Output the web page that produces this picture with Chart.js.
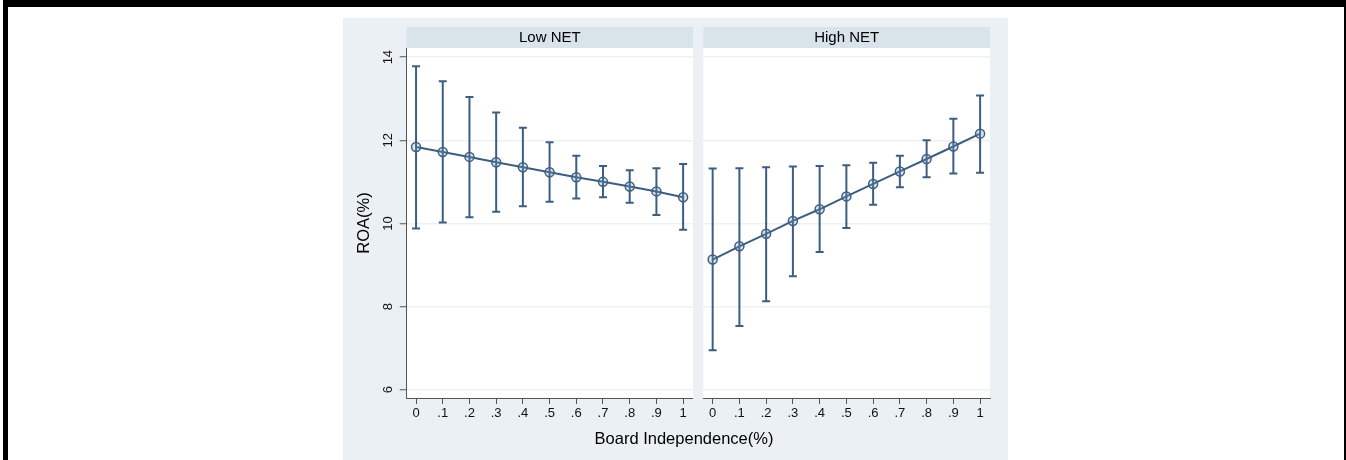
<!DOCTYPE html>
<html>
<head>
<meta charset="utf-8">
<script src="https://cdn.jsdelivr.net/npm/chart.js@4/dist/chart.umd.min.js"></script>
<style>
    html, body { margin: 0; padding: 0; background: #ffffff; }
    body { width: 1346px; height: 460px; position: relative; overflow: hidden; font-family: 'Liberation Sans', Arial, sans-serif; }
    #marco { position: absolute; left: 3px; top: 0; width: 1343px; height: 470px; box-sizing: border-box;
             border-top: 7px solid #000; border-left: 5px solid #000; border-right: 2px solid #000; }
    #fondo { position: absolute; left: 343px; top: 18px; width: 665px; height: 442px; background: #eaf0f3; }
    #izq { position: absolute; left: 0; top: 0; }
    #der { position: absolute; left: 350px; top: 0; }
    #tituloX { position: absolute; left: 241px; width: 200px; top: 410px; text-align: center;
               font-size: 16.5px; line-height: 20px; color: #000; }
</style>
</head>
<body>
<div id="marco"></div>
<div id="fondo">
    <canvas id="izq" width="350" height="442"></canvas>
    <canvas id="der" width="315" height="442"></canvas>
    <div id="tituloX">Board Independence(%)</div>
</div>
<script>
// datos
const xVals = [0, 0.1, 0.2, 0.3, 0.4, 0.5, 0.6, 0.7, 0.8, 0.9, 1];
const xTickLabels = ['0', '.1', '.2', '.3', '.4', '.5', '.6', '.7', '.8', '.9', '1'];
const yTicks = [6, 8, 10, 12, 14];
const panelTitles = ['Low NET', 'High NET'];

// Low NET
const lowMean  = [11.84, 11.72, 11.60, 11.47, 11.35, 11.23, 11.11, 11.00, 10.89, 10.77, 10.63];
const lowUpper = [13.78, 13.42, 13.04, 12.67, 12.30, 11.95, 11.63, 11.38, 11.28, 11.33, 11.43];
const lowLower = [9.88, 10.02, 10.15, 10.28, 10.41, 10.52, 10.60, 10.63, 10.50, 10.20, 9.85];

// High NET
const highMean  = [9.13, 9.45, 9.75, 10.06, 10.34, 10.65, 10.95, 11.25, 11.55, 11.85, 12.16];
const highUpper = [11.32, 11.33, 11.35, 11.37, 11.38, 11.40, 11.46, 11.63, 12.00, 12.52, 13.08];
const highLower = [6.95, 7.53, 8.13, 8.73, 9.31, 9.89, 10.45, 10.87, 11.11, 11.20, 11.22];

const azul = '#3d5e81';
const fuente = "'Liberation Sans', Arial, sans-serif";

// fondo blanco del area y franja del titulo
const franja = {
    id: 'franja',
    beforeDraw(chart) {
        const a = chart.chartArea;
        const ctx = chart.ctx;
        ctx.save();
        ctx.fillStyle = '#ffffff';
        ctx.fillRect(a.left, a.top, a.right - a.left, a.bottom - a.top);
        ctx.fillStyle = '#d9e3ea';
        ctx.fillRect(a.left, 9, a.right - a.left, a.top - 9);
        ctx.restore();
    }
};

function crearPanel(canvasId, titulo, media, sup, inf, esIzq) {
    // barras de error como segmentos separados por huecos
    const barras = [];
    xVals.forEach((x, i) => {
        barras.push({ x: x, y: inf[i] }, { x: x, y: sup[i] }, { x: x, y: null });
    });

    return new Chart(document.getElementById(canvasId), {
        type: 'scatter',
        data: {
            datasets: [
                {
                    data: xVals.map((x, i) => ({ x: x, y: media[i] })),
                    showLine: true,
                    borderColor: azul,
                    borderWidth: 2,
                    pointRadius: 4.5,
                    pointBorderWidth: 1.5,
                    pointBorderColor: azul,
                    pointBackgroundColor: 'rgba(110,150,190,0.25)'
                },
                {
                    data: barras,
                    showLine: true,
                    spanGaps: false,
                    borderColor: azul,
                    borderWidth: 2,
                    pointRadius: 0
                },
                {
                    data: xVals.map((x, i) => ({ x: x, y: sup[i] })),
                    pointStyle: 'line',
                    pointRadius: 4,
                    pointBorderWidth: 2,
                    pointBorderColor: azul
                },
                {
                    data: xVals.map((x, i) => ({ x: x, y: inf[i] })),
                    pointStyle: 'line',
                    pointRadius: 4,
                    pointBorderWidth: 2,
                    pointBorderColor: azul
                }
            ]
        },
        options: {
            responsive: false,
            animation: false,
            devicePixelRatio: 1,
            layout: { autoPadding: false, padding: { top: 9, right: esIzq ? 0 : 18, left: 0, bottom: 0 } },
            plugins: {
                legend: { display: false },
                tooltip: { enabled: false },
                title: {
                    display: true,
                    text: titulo,
                    fullSize: false,
                    color: '#000',
                    font: { family: fuente, size: 15, weight: 'normal' },
                    padding: { top: 2, bottom: 1 }
                }
            },
            scales: {
                x: {
                    type: 'linear',
                    min: -0.035,
                    max: 1.037,
                    afterBuildTicks: s => { s.ticks = xVals.map(v => ({ value: v })); },
                    afterFit: s => { s.height = 62; s.paddingLeft = 0; s.paddingRight = 0; },
                    border: { display: true, color: '#555', width: 1 },
                    grid: { drawOnChartArea: false, drawTicks: true, tickLength: 6, tickColor: '#555', tickWidth: 1 },
                    ticks: {
                        padding: 2,
                        color: '#111',
                        maxRotation: 0,
                        font: { family: fuente, size: 13 },
                        callback: (v, i) => xTickLabels[i]
                    }
                },
                y: {
                    type: 'linear',
                    min: 5.8,
                    max: 14.22,
                    afterBuildTicks: s => { s.ticks = yTicks.map(v => ({ value: v })); },
                    afterFit: s => { s.width = esIzq ? 63.7 : 10.3; s.paddingTop = 0; s.paddingBottom = 0; },
                    border: { display: esIzq, color: '#555', width: 1 },
                    grid: { color: '#edf1f4', lineWidth: 1.5, drawTicks: esIzq, tickLength: 7, tickColor: '#555', tickWidth: 1 },
                    ticks: {
                        display: esIzq,
                        padding: 4,
                        color: '#111',
                        minRotation: 90,
                        maxRotation: 90,
                        crossAlign: 'center',
                        font: { family: fuente, size: 13 }
                    },
                    title: {
                        display: esIzq,
                        text: 'ROA(%)',
                        color: '#000',
                        font: { family: fuente, size: 16.5 },
                        padding: { top: 12, bottom: 0 }
                    }
                }
            }
        },
        plugins: [franja]
    });
}

crearPanel('izq', panelTitles[0], lowMean, lowUpper, lowLower, true);
crearPanel('der', panelTitles[1], highMean, highUpper, highLower, false);
</script>
</body>
</html>
